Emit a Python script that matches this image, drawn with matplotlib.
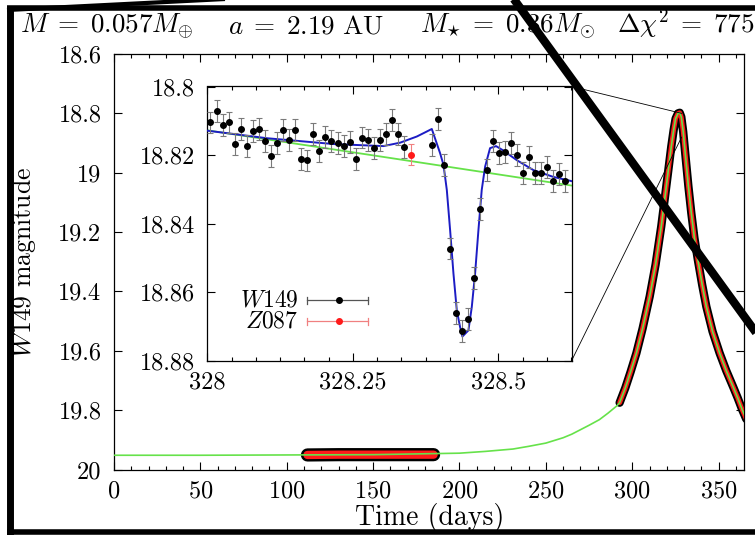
import matplotlib
matplotlib.use('Agg')
import matplotlib.pyplot as plt
from matplotlib.lines import Line2D
from matplotlib.patches import ConnectionPatch
from matplotlib.ticker import MultipleLocator, FixedLocator

plt.rcParams['font.family'] = 'serif'
plt.rcParams['font.serif'] = ['cmr10', 'DejaVu Serif']
plt.rcParams['mathtext.fontset'] = 'cm'
plt.rcParams['axes.formatter.use_mathtext'] = True

# ---------------- data ----------------
# single-lens model in the main panel
model_t = [0, 50, 100, 150, 200, 215, 231, 240, 250, 260, 265, 270, 275, 281, 286, 291,
           292.7, 296, 299, 302.4, 306, 310.1, 313.5, 316.8, 319.7, 322.6, 324.0, 325.1,
           326.5, 327.5, 328.4, 329.5, 330.9, 332.5, 334.2, 336, 338.0, 340.5, 342.9,
           346.5, 350.6, 354.5, 358.3, 361, 363.7, 366]
model_mag = [19.952, 19.952, 19.951, 19.950, 19.945, 19.939, 19.931, 19.922, 19.911, 19.893,
             19.881, 19.866, 19.851, 19.832, 19.810, 19.786,
             19.775, 19.725, 19.672, 19.608, 19.525, 19.417, 19.310, 19.181, 19.047, 18.912,
             18.855, 18.818, 18.800, 18.798, 18.812, 18.862, 18.948, 19.045, 19.136, 19.220,
             19.294, 19.378, 19.451, 19.535, 19.608, 19.668, 19.720, 19.758, 19.799, 19.830]

# first observing season (dense photometry around baseline)
season1_t = [112, 130, 150, 170, 185]
season1_mag = [19.951, 19.950, 19.950, 19.950, 19.950]

# second observing season (dense photometry across the peak)
season2_t = [292.7, 296, 299, 302.4, 306, 310.1, 313.5, 316.8, 319.7, 322.6, 324.0,
             325.1, 326.5, 327.5, 328.4, 329.5, 330.9, 332.5, 334.2, 336, 338.0,
             340.5, 342.9, 346.5, 350.6, 354.5, 358.3, 361, 363.7, 366]
season2_mag = [19.775, 19.725, 19.672, 19.608, 19.525, 19.417, 19.310, 19.181, 19.047,
               18.912, 18.855, 18.818, 18.800, 18.798, 18.812, 18.862, 18.948, 19.045,
               19.136, 19.220, 19.294, 19.378, 19.451, 19.535, 19.608, 19.668, 19.720,
               19.758, 19.799, 19.830]

# inset: W149 points
w149_t = [328.0044, 328.0159, 328.0262, 328.0365, 328.0468, 328.0571, 328.0674, 328.0777,
          328.0880, 328.0983, 328.1091, 328.1195, 328.1298, 328.1401, 328.1504, 328.1612,
          328.1715, 328.1818, 328.1921, 328.2024, 328.2127, 328.2236, 328.2339, 328.2442,
          328.2551, 328.2654, 328.2757, 328.2860, 328.2963, 328.3066, 328.3169, 328.3278,
          328.3381, 328.3862, 328.3970, 328.4068, 328.4171, 328.4279, 328.4382, 328.4485,
          328.4588, 328.4691, 328.4800, 328.4903, 328.5006, 328.5109, 328.5212, 328.5315,
          328.5424, 328.5527, 328.5630, 328.5733, 328.5836, 328.5939, 328.6048, 328.6151]
w149_mag = [18.8105, 18.8072, 18.8112, 18.8105, 18.8169, 18.8124, 18.8175, 18.8129,
            18.8124, 18.8160, 18.8204, 18.8164, 18.8127, 18.8155, 18.8127, 18.8211,
            18.8216, 18.8139, 18.8188, 18.8147, 18.8160, 18.8164, 18.8173, 18.8162,
            18.8212, 18.8149, 18.8157, 18.8179, 18.8157, 18.8139, 18.8099, 18.8139,
            18.8177, 18.8170, 18.8095, 18.8228, 18.8473, 18.8662, 18.8714, 18.8678,
            18.8559, 18.8359, 18.8244, 18.8158, 18.8195, 18.8190, 18.8166, 18.8199,
            18.8252, 18.8205, 18.8252, 18.8252, 18.8234, 18.8275, 18.8256, 18.8275]
w149_err = 0.0032

# inset: Z087 point
z087_t = [328.3495]
z087_mag = [18.8199]
z087_err = 0.0031

# inset: planetary (binary-lens) model
planet_t = [328.0, 328.1023, 328.2167, 328.3025, 328.3312, 328.3599, 328.3740, 328.3856,
            328.3999, 328.4057, 328.4114, 328.4171, 328.4228, 328.4286, 328.4343, 328.4382,
            328.4485, 328.4543, 328.4600, 328.4657, 328.4714, 328.4772, 328.4857, 328.4960,
            328.5086, 328.5316, 328.5601, 328.5945, 328.6250]
planet_mag = [18.8129, 18.8151, 18.8168, 18.8174, 18.8164, 18.8146, 18.8134, 18.8124,
              18.8195, 18.8229, 18.8302, 18.8420, 18.8546, 18.8654, 18.8703, 18.8730,
              18.8712, 18.8644, 18.8546, 18.8420, 18.8302, 18.8234, 18.8180, 18.8174,
              18.8187, 18.8215, 18.8244, 18.8264, 18.8276]

# inset: single-lens model
single_t = [328.0, 328.3, 328.625]
single_mag = [18.8128, 18.8205, 18.8289]

main_yticks = [18.6, 18.8, 19.0, 19.2, 19.4, 19.6, 19.8, 20.0]
main_yticklabels = ['18.6', '18.8', '19', '19.2', '19.4', '19.6', '19.8', '20']
inset_xticks = [328.0, 328.25, 328.5]
inset_xticklabels = ['328', '328.25', '328.5']
inset_yticks = [18.80, 18.82, 18.84, 18.86, 18.88]
inset_yticklabels = ['18.8', '18.82', '18.84', '18.86', '18.88']

title_parts = [r'$M \;=\; 0.057M_{\oplus}$', r'$a \;=\; 2.19\ \mathrm{AU}$',
               r'$M_{\star} \;=\; 0.36M_{\odot}$', r'$\Delta\chi^2 \;=\; 775$']

GREEN = '#66e24a'
BLUE = '#1c1cc4'
RED = '#ff1a1a'

# ---------------- figure ----------------
W, H = 755, 535
fig = plt.figure(figsize=(W / 100, H / 100), dpi=100)


def fx(x):
    return x / W


def fy(y):
    return 1 - y / H


TICK_FS = 17.5

ax = fig.add_axes([fx(114), fy(469.5), fx(744) - fx(114), fy(54) - fy(469.5)])
ax.plot(model_t, model_mag, color=GREEN, lw=1.2, zorder=4)
ax.plot(season1_t, season1_mag, color='black', lw=9.5, solid_capstyle='round', zorder=2)
ax.plot(season1_t, season1_mag, color=RED, lw=6.0, solid_capstyle='round', zorder=3)
ax.plot(season2_t, season2_mag, color='black', lw=6.0, solid_capstyle='round', zorder=2)
ax.plot(season2_t, season2_mag, color=RED, lw=3.4, solid_capstyle='round', zorder=3)
ax.set_xlim(0, 364.7)
ax.set_ylim(20.0, 18.6)
ax.xaxis.set_major_locator(MultipleLocator(50))
ax.xaxis.set_minor_locator(MultipleLocator(10))
ax.yaxis.set_major_locator(FixedLocator(main_yticks))
ax.set_yticklabels(main_yticklabels)
ax.tick_params(which='both', direction='in', top=True, right=True, labelsize=TICK_FS)
ax.tick_params(which='major', length=6, width=0.8)
ax.tick_params(which='minor', length=3, width=0.8)
ax.tick_params(axis='x', pad=8)
ax.tick_params(axis='y', pad=9)
for s in ax.spines.values():
    s.set_linewidth(0.9)

# inset
axi = fig.add_axes([fx(207.4), fy(360.5), fx(571.7) - fx(207.4), fy(86.5) - fy(360.5)])
axi.plot(single_t, single_mag, color=GREEN, lw=1.3, zorder=2)
axi.plot(planet_t, planet_mag, color=BLUE, lw=1.4, zorder=3)
axi.errorbar(w149_t, w149_mag, yerr=w149_err, fmt='o', color='black', ms=4,
             ecolor='#7a7a7a', elinewidth=0.8, capsize=2.2, capthick=0.8, zorder=4)
axi.errorbar(z087_t, z087_mag, yerr=z087_err, fmt='o', color=RED, ms=4,
             ecolor='#f08080', elinewidth=0.8, capsize=2.2, capthick=0.8, zorder=4)
axi.set_xlim(328.0, 328.626)
axi.set_ylim(18.88, 18.80)
axi.xaxis.set_major_locator(FixedLocator(inset_xticks))
axi.set_xticklabels(inset_xticklabels)
axi.xaxis.set_minor_locator(MultipleLocator(0.25 / 6))
axi.yaxis.set_major_locator(FixedLocator(inset_yticks))
axi.set_yticklabels(inset_yticklabels)
axi.tick_params(which='both', direction='in', top=True, right=True, labelsize=TICK_FS)
axi.tick_params(which='major', length=6, width=0.8)
axi.tick_params(which='minor', length=3, width=0.8)
axi.tick_params(axis='x', pad=8)
axi.tick_params(axis='y', pad=9)
for s in axi.spines.values():
    s.set_linewidth(0.9)

# hand-made key (horizontal error-bar samples)
key = [(r'$W149$', 0.2200, 'black', '#555555'), (r'$Z087$', 0.1430, RED, '#f08080')]
for label, yk, mc, lc in key:
    axi.text(0.250, yk, label, transform=axi.transAxes, ha='right', va='center', fontsize=17)
    axi.plot([0.274, 0.4417], [yk, yk], transform=axi.transAxes, color=lc, lw=0.9)
    for xc in (0.274, 0.4417):
        axi.plot([xc, xc], [yk - 0.012, yk + 0.012], transform=axi.transAxes, color=lc, lw=0.9)
    axi.plot([0.3604], [yk], 'o', transform=axi.transAxes, color=mc, ms=4)

# zoom connector lines
for xa, ya, yb in [(1, 1, 18.80), (1, 0, 18.88)]:
    cp = ConnectionPatch(xyA=(xa, ya), coordsA=axi.transAxes, xyB=(328.6, yb),
                         coordsB=ax.transData, color='black', lw=0.6, zorder=1)
    fig.add_artist(cp)

# texts
for txt, x0 in zip(title_parts, [20, 228, 420, 617]):
    fig.text(fx(x0), fy(33), txt, ha='left', va='baseline', fontsize=19.5)
fig.text(fx(24), fy(262), r'$W149$ magnitude', rotation=90, ha='center', va='center', fontsize=18.5)
fig.text(fx(430), fy(517), 'Time (days)', ha='center', va='center', fontsize=20)

# black overlay strokes (frame and diagonal marks)
strokes = [
    ((7, 8), (755, 8), 4.0),
    ((10, 6), (10, 535), 5.0),
    ((7, 531.5), (755, 531.5), 4.0),
    ((7, 10), (225, -1), 3.0),
    ((513, -2), (757, 334), 6.0),
]
for (x0, y0), (x1, y1), lw in strokes:
    fig.add_artist(Line2D([fx(x0), fx(x1)], [fy(y0), fy(y1)], transform=fig.transFigure,
                          color='black', lw=lw, zorder=20, solid_capstyle='butt'))

fig.savefig('out.png', dpi=100)
